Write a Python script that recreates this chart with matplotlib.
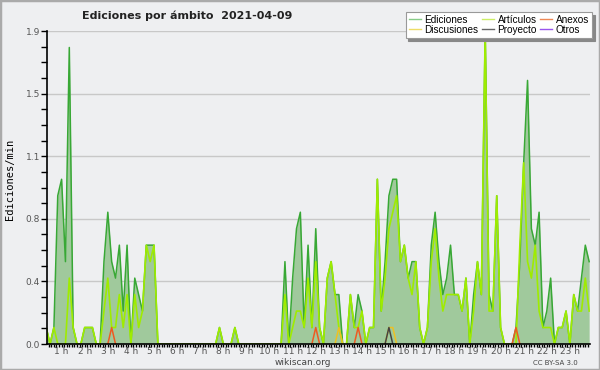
import matplotlib
matplotlib.use("Agg")
import matplotlib.pyplot as plt
from matplotlib.lines import Line2D
from matplotlib.patches import Rectangle
from matplotlib.ticker import FixedLocator, MultipleLocator
import numpy as np

# 10-minute slots, from 0:20 (slot 2) to 23:50 (slot 143), edits per minute
slots = np.arange(2, 144)

ediciones = [
    0.1, 0.0, 0.1, 0.9,                  # 0 h
    1.0, 0.5, 1.8, 0.1, 0.0, 0.0,        # 1 h
    0.1, 0.1, 0.1, 0.0, 0.0, 0.5,        # 2 h
    0.8, 0.5, 0.4, 0.6, 0.2, 0.6,        # 3 h
    0.0, 0.4, 0.3, 0.2, 0.6, 0.6,        # 4 h
    0.6, 0.0, 0.0, 0.0, 0.0, 0.0,        # 5 h
    0.0, 0.0, 0.0, 0.0, 0.0, 0.0,        # 6 h
    0.0, 0.0, 0.0, 0.0, 0.0, 0.1,        # 7 h
    0.0, 0.0, 0.0, 0.1, 0.0, 0.0,        # 8 h
    0.0, 0.0, 0.0, 0.0, 0.0, 0.0,        # 9 h
    0.0, 0.0, 0.0, 0.0, 0.5, 0.0,        # 10 h
    0.4, 0.7, 0.8, 0.1, 0.6, 0.1,        # 11 h
    0.7, 0.1, 0.0, 0.4, 0.5, 0.3,        # 12 h
    0.3, 0.0, 0.0, 0.3, 0.1, 0.3,        # 13 h
    0.2, 0.0, 0.1, 0.1, 1.0, 0.2,        # 14 h
    0.5, 0.9, 1.0, 1.0, 0.5, 0.6,        # 15 h
    0.4, 0.5, 0.5, 0.1, 0.0, 0.1,        # 16 h
    0.6, 0.8, 0.5, 0.3, 0.4, 0.6,        # 17 h
    0.3, 0.3, 0.2, 0.4, 0.0, 0.3,        # 18 h
    0.5, 0.3, 1.9, 0.3, 0.2, 0.9,        # 19 h
    0.1, 0.0, 0.0, 0.0, 0.1, 0.5,        # 20 h
    1.1, 1.6, 0.7, 0.6, 0.8, 0.1,        # 21 h
    0.2, 0.4, 0.0, 0.1, 0.1, 0.2,        # 22 h
    0.0, 0.3, 0.2, 0.4, 0.6, 0.5,        # 23 h
]

articulos = [
    0.1, 0.0, 0.1, 0.0,                  # 0 h
    0.0, 0.0, 0.4, 0.1, 0.0, 0.0,        # 1 h
    0.1, 0.1, 0.1, 0.0, 0.0, 0.2,        # 2 h
    0.4, 0.1, 0.1, 0.3, 0.1, 0.3,        # 3 h
    0.0, 0.3, 0.1, 0.2, 0.6, 0.5,        # 4 h
    0.6, 0.0, 0.0, 0.0, 0.0, 0.0,        # 5 h
    0.0, 0.0, 0.0, 0.0, 0.0, 0.0,        # 6 h
    0.0, 0.0, 0.0, 0.0, 0.0, 0.1,        # 7 h
    0.0, 0.0, 0.0, 0.1, 0.0, 0.0,        # 8 h
    0.0, 0.0, 0.0, 0.0, 0.0, 0.0,        # 9 h
    0.0, 0.0, 0.0, 0.0, 0.3, 0.0,        # 10 h
    0.1, 0.2, 0.2, 0.1, 0.4, 0.1,        # 11 h
    0.5, 0.1, 0.0, 0.4, 0.5, 0.3,        # 12 h
    0.1, 0.0, 0.0, 0.3, 0.1, 0.1,        # 13 h
    0.2, 0.0, 0.1, 0.1, 1.0, 0.2,        # 14 h
    0.4, 0.7, 0.8, 0.9, 0.5, 0.6,        # 15 h
    0.4, 0.3, 0.5, 0.1, 0.0, 0.1,        # 16 h
    0.5, 0.7, 0.4, 0.2, 0.3, 0.3,        # 17 h
    0.3, 0.3, 0.2, 0.4, 0.0, 0.2,        # 18 h
    0.5, 0.3, 1.9, 0.2, 0.2, 0.9,        # 19 h
    0.1, 0.0, 0.0, 0.0, 0.0, 0.6,        # 20 h
    1.1, 0.5, 0.4, 0.6, 0.2, 0.1,        # 21 h
    0.1, 0.1, 0.0, 0.1, 0.1, 0.2,        # 22 h
    0.0, 0.3, 0.2, 0.2, 0.4, 0.2,        # 23 h
]

# sparse series: slot index -> value
anexos_slots = [19, 72, 83, 124]
anexos_vals = [0.1, 0.1, 0.1, 0.1]
discusiones_slots = [78, 91, 92]
discusiones_vals = [0.1, 0.1, 0.1]
proyecto_slots = [91]
proyecto_vals = [0.1]

hour_labels = ["%d h" % h for h in range(1, 24)]
legend_labels = ["Ediciones", "Discusiones", "Artículos", "Proyecto", "Anexos", "Otros"]


def sparse_series(idx, vals):
    y = np.zeros(len(slots))
    for i, v in zip(idx, vals):
        y[i - slots[0]] = v
    # hide the flat parts lying on the axis
    keep = (y > 0) | (np.roll(y, 1) > 0) | (np.roll(y, -1) > 0)
    return np.where(keep, y, np.nan)


t = slots / 6.0
bg = "#eeeff1"

fig = plt.figure(figsize=(6, 3.7), dpi=100, facecolor=bg)
ax = fig.add_axes([47 / 600, 26 / 370, 543 / 600, 313 / 370], facecolor=bg)

ax.fill_between(t, ediciones, color="#a0c99c", lw=0, zorder=1)
ax.plot(t, ediciones, color="#38a835", lw=1.1, zorder=3)
ax.plot(t, articulos, color="#9fec00", lw=1.2, zorder=4)
ax.plot(t, sparse_series(discusiones_slots, discusiones_vals), color="#eec022", lw=1.1, zorder=5)
ax.plot(t, sparse_series(anexos_slots, anexos_vals), color="#ee5a22", lw=1.1, zorder=5)
ax.plot(t, sparse_series(proyecto_slots, proyecto_vals), color="#444444", lw=1.1, zorder=6)

ax.set_xlim(0.368, 23.87)
ax.set_ylim(0, 1.9)

yt = np.linspace(0, 1.9, 6)
ax.yaxis.set_major_locator(FixedLocator(yt))
ax.set_yticklabels(["%.1f" % v for v in yt])
ax.yaxis.set_minor_locator(MultipleLocator(1.9 / 20))
ax.xaxis.set_major_locator(FixedLocator(range(1, 24)))
ax.set_xticklabels(hour_labels)
ax.xaxis.set_minor_locator(MultipleLocator(1 / 9))

ax.grid(axis="y", which="major", color="#c8c8c8", lw=1.0, zorder=0)
ax.set_axisbelow(True)
for s in ["top", "right"]:
    ax.spines[s].set_visible(False)
for s in ["left", "bottom"]:
    ax.spines[s].set_color("black")
    ax.spines[s].set_linewidth(1.2)
    ax.spines[s].set_zorder(10)

ax.tick_params(axis="y", which="both", direction="out", length=4, width=1, color="black",
               labelsize=6.5, labelcolor="#555555", pad=1)
ax.tick_params(axis="x", which="both", direction="out", length=2, width=1, color="black",
               labelsize=6.5, labelcolor="#555555", pad=0.5)

fig.text(0.017, 0.515, "Ediciones/min", rotation=90, ha="center", va="center",
         family="DejaVu Sans Mono", fontsize=7.5, color="black")
fig.text(0.3125, 0.958, "Ediciones por ámbito  2021-04-09", ha="center", va="center",
         fontsize=8, fontweight="bold", color="#222222")
fig.text(0.505, 0.019, "wikiscan.org", ha="center", va="center", fontsize=6.5, color="#444444")
fig.text(0.925, 0.019, "CC BY-SA 3.0", ha="center", va="center", fontsize=5, color="#444444")

handle_colors = ["#88cc88", "#eedd66", "#ccee66", "#666666", "#ee8855", "#9955ee"]
handles = [Line2D([], [], color=c, lw=1.0) for c in handle_colors]
leg = fig.legend(handles, legend_labels, ncol=3, loc="upper right", bbox_to_anchor=(0.987, 0.968),
                 borderaxespad=0, frameon=True, fancybox=False,
                 shadow={"color": "#888888", "alpha": 1},
                 prop={"family": "Liberation Sans", "size": 7.2},
                 handlelength=1.2, columnspacing=0.3, labelspacing=0.0,
                 borderpad=0.3, handletextpad=0.4, framealpha=1)
leg.get_frame().set_edgecolor("#999999")
leg.get_frame().set_linewidth(0.8)

fig.add_artist(Rectangle((0, 0), 1, 1, transform=fig.transFigure, fill=False,
                         edgecolor="#aaaaaa", lw=2.5))

fig.savefig("out.png", dpi=100, facecolor=bg)
